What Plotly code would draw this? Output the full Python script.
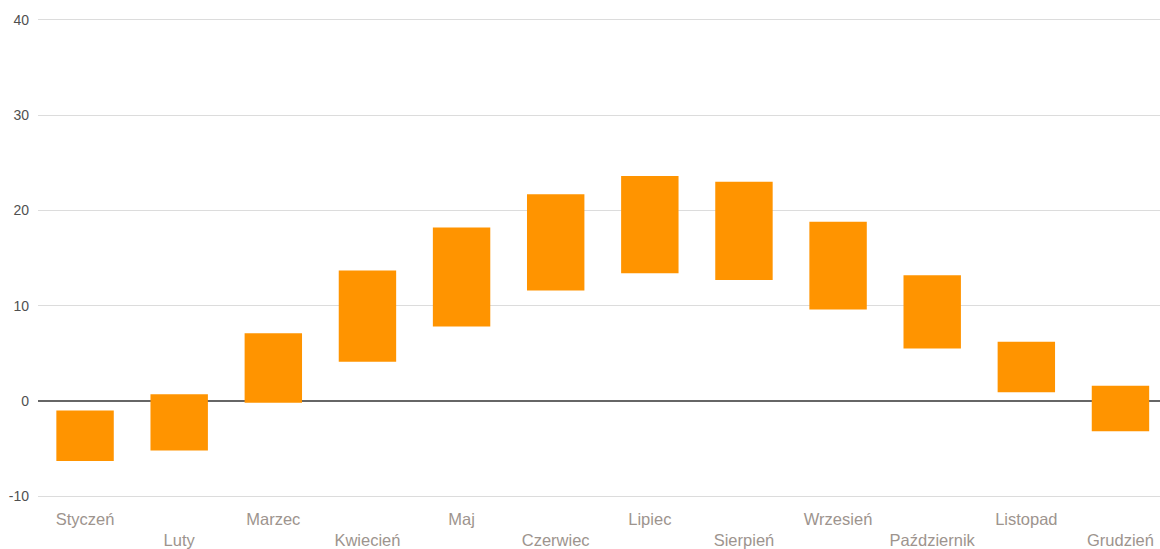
import plotly.graph_objects as go

months = ["Styczeń", "Luty", "Marzec", "Kwiecień", "Maj", "Czerwiec",
          "Lipiec", "Sierpień", "Wrzesień", "Październik", "Listopad", "Grudzień"]
t_min = [-6.3, -5.2, -0.2, 4.1, 7.8, 11.6, 13.4, 12.7, 9.6, 5.5, 0.9, -3.2]
t_max = [-1.0, 0.7, 7.1, 13.7, 18.2, 21.7, 23.6, 23.0, 18.8, 13.2, 6.2, 1.6]
y_ticks = [-10, 0, 10, 20, 30, 40]
y_labels = ["-10", "0", "10", "20", "30", "40"]

# staggered labels, every second one goes to the lower row
labels = [m if i % 2 == 0 else "<br>" + m for i, m in enumerate(months)]

fig = go.Figure()
fig.add_trace(go.Bar(
    x=list(range(len(months))),
    y=[hi - lo for lo, hi in zip(t_min, t_max)],
    base=t_min,
    width=0.61,
    marker=dict(color="#FF9400", line=dict(width=0)),
    hoverinfo="skip",
))

fig.update_layout(
    width=1160, height=549,
    margin=dict(l=38, r=0, t=17, b=45),
    paper_bgcolor="white", plot_bgcolor="white",
    showlegend=False,
    font=dict(family="Liberation Sans, Arial, sans-serif"),
    xaxis=dict(
        range=[-0.5, 11.42],
        tickmode="array",
        tickvals=list(range(len(months))),
        ticktext=labels,
        showgrid=False, zeroline=False, showline=False,
        ticks="", ticklabelstandoff=8,
        tickfont=dict(size=16.5, color="#9d948e"),
    ),
    yaxis=dict(
        range=[-10.3, 40.3],
        tickmode="array",
        tickvals=y_ticks,
        ticktext=y_labels,
        showgrid=True, gridcolor="#dcdcdc", gridwidth=1,
        zeroline=True, zerolinecolor="#666666", zerolinewidth=2,
        showline=False, ticks="",
        tickfont=dict(size=14, color="#505050"),
        ticklabelstandoff=8,
    ),
)

# drop the default page margin so the figure fills the window exactly
fig.write_html("out.html",
               config={"displayModeBar": False},
               post_script="document.body.style.margin='0';"
                           "document.body.style.overflow='hidden';")
